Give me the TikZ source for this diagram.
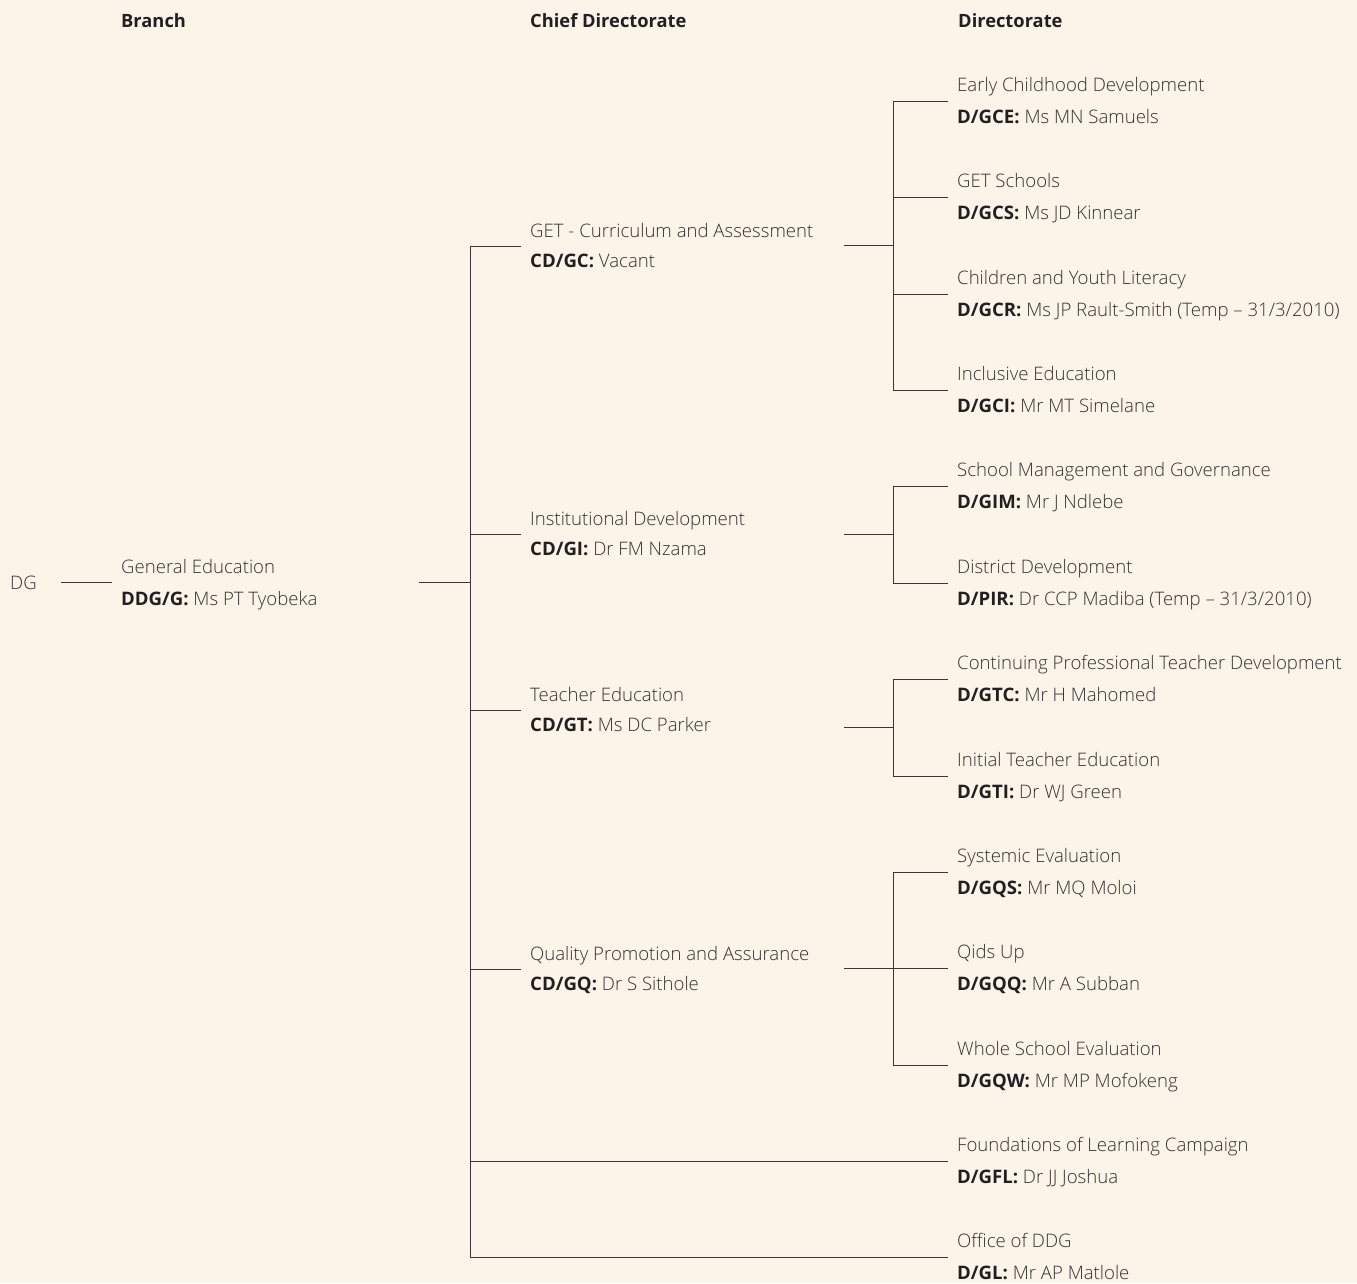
\documentclass[tikz,border=0pt]{standalone}
\usepackage{fontspec}
\setmainfont{Open Sans}[UprightFont={* Light},BoldFont={* Bold}]
\usetikzlibrary{calc}
\definecolor{paper}{HTML}{FAF4E9}
\definecolor{ink}{HTML}{333130}
\definecolor{inkdark}{HTML}{231F20}
\definecolor{rule}{HTML}{3A3635}
\newcommand{\code}[1]{{\bfseries\color{inkdark}#1}}
\tikzset{
  head/.style={anchor=base west,inner sep=0,font=\fontsize{18.3}{22}\selectfont\bfseries,text=inkdark},
  unit/.style={anchor=west,align=left,inner xsep=9,inner ysep=0,text=ink,
    font=\fontsize{18.6}{32}\selectfont},
  chief/.style={unit,font=\fontsize{18.6}{30}\selectfont},
  link/.style={draw=rule,line width=0.9pt}
}
\newcommand{\two}[2]{\strut#1\\\strut#2}
\begin{document}
\begin{tikzpicture}[x=1pt,y=-1pt]
\fill[paper] (0,0) rectangle (1357,1283);
\useasboundingbox (0,0) rectangle (1357,1283);

% column headings
\node[head] (hb) at (121,27) {Branch};
\node[head] (hc) at (530,27) {Chief Directorate};
\node[head] (hd) at (958,27) {Directorate};

% DG and branch
\node[anchor=west,inner sep=0,text=ink,font=\fontsize{18.6}{22}\selectfont] (dg) at (10,583) {DG};
\coordinate (dgout) at (61,582);
\node[unit] (ge) at (112,583) {\two{General Education}{\code{DDG/G:} Ms PT Tyobeka}};
\coordinate (geout) at (419,582);
\coordinate (bus) at (470,582);

% chief directorates
\node[chief] (cgc) at (521,246) {\two{GET - Curriculum and Assessment}{\code{CD/GC:} Vacant}};
\node[chief] (cgi) at (521,534) {\two{Institutional Development}{\code{CD/GI:} Dr FM Nzama}};
\node[chief] (cgt) at (521,710) {\two{Teacher Education}{\code{CD/GT:} Ms DC Parker}};
\node[chief] (cgq) at (521,969) {\two{Quality Promotion and Assurance}{\code{CD/GQ:} Dr S Sithole}};

% directorates
\node[unit] (dgce) at (948,101) {\two{Early Childhood Development}{\code{D/GCE:} Ms MN Samuels}};
\node[unit] (dgcs) at (948,197) {\two{GET Schools}{\code{D/GCS:} Ms JD Kinnear}};
\node[unit] (dgcr) at (948,294) {\two{Children and Youth Literacy}{\code{D/GCR:} Ms JP Rault-Smith (Temp -- 31/3/2010)}};
\node[unit] (dgci) at (948,390) {\two{Inclusive Education}{\code{D/GCI:} Mr MT Simelane}};
\node[unit] (dgim) at (948,486) {\two{School Management and Governance}{\code{D/GIM:} Mr J Ndlebe}};
\node[unit] (dpir) at (948,583) {\two{District Development}{\code{D/PIR:} Dr CCP Madiba (Temp -- 31/3/2010)}};
\node[unit] (dgtc) at (948,679) {\two{Continuing Professional Teacher Development}{\code{D/GTC:} Mr H Mahomed}};
\node[unit] (dgti) at (948,776) {\two{Initial Teacher Education}{\code{D/GTI:} Dr WJ Green}};
\node[unit] (dgqs) at (948,872) {\two{Systemic Evaluation}{\code{D/GQS:} Mr MQ Moloi}};
\node[unit] (dgqq) at (948,968) {\two{Qids Up}{\code{D/GQQ:} Mr A Subban}};
\node[unit] (dgqw) at (948,1065) {\two{Whole School Evaluation}{\code{D/GQW:} Mr MP Mofokeng}};
\node[unit] (dgfl) at (948,1161) {\two{Foundations of Learning Campaign}{\code{D/GFL:} Dr JJ Joshua}};
\node[unit] (dgl)  at (948,1257) {\two{Office of DDG}{\code{D/GL:} Mr AP Matlole}};

\coordinate (outx) at (844,0);
\coordinate (forkx) at (893,0);

% DG to branch, branch to bus
\draw[link] (dgout) -- (dgout -| ge.west);
\draw[link] (geout) -- (bus);
\draw[link] (bus |- cgc.west) -- (bus |- dgl.west);
\foreach \n in {cgc,cgi,cgt,cgq,dgfl,dgl}
  \draw[link] (bus |- \n.west) -- (\n.west);

% chief directorate forks
\foreach \a/\b/\kids in {dgce/dgci/{dgce,dgcs,dgcr,dgci},dgim/dpir/{dgim,dpir},dgtc/dgti/{dgtc,dgti},dgqs/dgqw/{dgqs,dgqq,dgqw}}{
  \coordinate (mid) at ($(\a.west)!0.5!(\b.west)$);
  \draw[link] (outx |- mid) -- (forkx |- mid);
  \draw[link] (forkx |- \a.west) -- (forkx |- \b.west);
  \foreach \k in \kids \draw[link] (forkx |- \k.west) -- (\k.west);
}
\end{tikzpicture}
\end{document}
